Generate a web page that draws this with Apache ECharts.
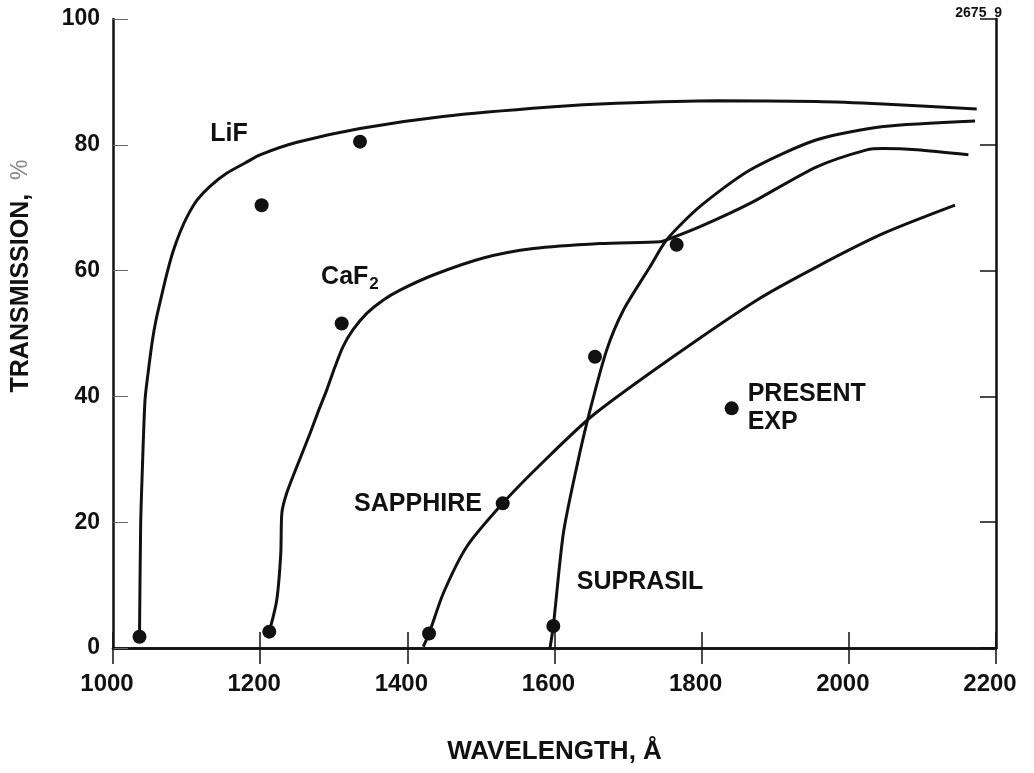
<!DOCTYPE html>
<html>
<head>
<meta charset="utf-8">
<script src="https://cdn.jsdelivr.net/npm/echarts@6/dist/echarts.min.js"></script>
<style>
  html, body { margin: 0; padding: 0; background: #fff; }
  #chart { width: 1034px; height: 773px; }
</style>
</head>
<body>
<div id="chart"></div>
<script>
// wavelength (A) vs transmission (%)
var lifCurve = [
  [1036, 1.8], [1037.6, 19.6], [1039.4, 26.7], [1043.5, 39.4], [1048.2, 44.2], [1053.7, 49.0],
  [1058.4, 52.1], [1064.6, 55.3], [1073.4, 59.6], [1081.5, 63.0], [1091.1, 66.1], [1101.3, 68.7],
  [1114.2, 71.2], [1131.8, 73.4], [1154.9, 75.5], [1179.4, 77.1], [1199.8, 78.4], [1250.1, 80.4],
  [1335.7, 82.6], [1448.5, 84.5], [1594, 86.0], [1684.6, 86.6], [1820.5, 87.0], [1956.4, 86.9],
  [2046.5, 86.5], [2173.8, 85.7]
];
var caf2Curve = [
  [1212.4, 2.6], [1222.5, 7.6], [1228, 15], [1229.5, 21.5], [1236, 24.6], [1249.7, 28.8],
  [1267.7, 34.1], [1278.6, 37.5], [1290.4, 41.0], [1301.7, 44.7], [1312.6, 47.9], [1326.2, 50.6],
  [1344.8, 53.2], [1366.9, 55.3], [1390.1, 56.9], [1435.3, 59.3], [1503.3, 62.0], [1571.2, 63.5],
  [1661.9, 64.3], [1743.4, 64.6], [1752.5, 64.9], [1797.8, 67.0], [1865.7, 70.7], [1956.4, 76.5],
  [2024.3, 79.2], [2046.9, 79.4], [2092.3, 79.2], [2162.5, 78.4]
];
var sapphireCurve = [
  [1421.7, 0.2], [1429.5, 2.3], [1448.9, 8.7], [1480.7, 16.1], [1529.6, 23.0], [1580.3, 29.1],
  [1652.3, 37.0], [1761.1, 46.3], [1874.8, 55.3], [1956.4, 60.6], [2046.9, 65.9], [2144.3, 70.4]
];
var suprasilCurve = [
  [1593.9, 0], [1598.4, 3.5], [1612, 18.2], [1630.2, 28.8], [1648.3, 37.8], [1671, 47.4],
  [1693.6, 53.7], [1729.8, 60.6], [1752.5, 64.9], [1797.8, 70.2], [1865.7, 76.0], [1956.4, 80.8],
  [2046.9, 82.9], [2171.5, 83.8]
];
// measured points (present experiment)
var measured = [
  [1036, 1.8], [1202, 70.4], [1335.7, 80.5],
  [1212.4, 2.6], [1310.8, 51.6],
  [1429.5, 2.3], [1529.6, 23.0],
  [1598.4, 3.5], [1655, 46.3], [1766, 64.1]
];
var legendPoint = [1840.8, 38.1];
var curveLabels = [
  { name: 'LiF', value: [1157.7, 81.7] },
  { name: 'CaF2', value: [1322, 59.0] },
  { name: 'SAPPHIRE', value: [1414.5, 22.9] },
  { name: 'SUPRASIL', value: [1716.2, 10.5] }
];
var xTicks = { min: 1000, max: 2200, step: 200 };
var yTicks = { min: 0, max: 100, step: 20 };

var font = "'Liberation Sans', Arial, sans-serif";
var ink = '#111';

var chart = echarts.init(document.getElementById('chart'));

function curve(name, data) {
  return {
    name: name,
    type: 'line',
    data: data,
    smooth: 0.25,
    symbol: 'none',
    lineStyle: { color: ink, width: 3 },
    z: 2
  };
}

var labelData = curveLabels.map(function (d) {
  var item = { name: d.name, value: d.value };
  if (d.name === 'CaF2') {
    item.label = {
      formatter: 'CaF{s|2}',
      rich: { s: { fontSize: 17, fontWeight: 'bold', fontFamily: font, color: ink, padding: [14, 0, 0, 1] } }
    };
  }
  return item;
});

var option = {
  animation: false,
  backgroundColor: '#fff',
  title: {
    text: '2675  9',
    right: 27,
    top: 1,
    textStyle: { fontSize: 14, fontWeight: 'bold', fontFamily: font, color: ink }
  },
  grid: { left: 113, right: 38, top: 19, bottom: 125 },
  xAxis: [
    {
      type: 'value',
      min: xTicks.min, max: xTicks.max, interval: xTicks.step,
      name: 'WAVELENGTH, Å',
      nameLocation: 'middle',
      nameGap: 91,
      nameTextStyle: { fontSize: 26, fontWeight: 'bold', fontFamily: font, color: ink },
      axisLine: { lineStyle: { color: ink, width: 2.5 } },
      axisTick: { inside: true, length: 16, lineStyle: { color: ink, width: 1.5 } },
      axisLabel: {
        fontSize: 24, fontWeight: 'bold', fontFamily: font, color: ink, margin: 24, padding: [0, 12, 0, 0],
        formatter: function (v) { return String(v); }
      },
      splitLine: { show: false }
    },
    {
      type: 'value',
      position: 'top',
      min: xTicks.min, max: xTicks.max, interval: xTicks.step,
      axisLine: { show: true, lineStyle: { color: ink, width: 2.5 } },
      axisTick: { show: true, inside: true, length: 16, lineStyle: { color: ink, width: 1.5 } },
      axisLabel: { show: false },
      splitLine: { show: false }
    }
  ],
  yAxis: [
    {
      type: 'value',
      min: yTicks.min, max: yTicks.max, interval: yTicks.step,
      axisLine: { show: true, lineStyle: { color: ink, width: 2.5 } },
      axisTick: { show: true, inside: true, length: 15, lineStyle: { color: '#666', width: 1 } },
      axisLabel: { fontSize: 23, fontWeight: 'bold', fontFamily: font, color: ink, margin: 13 },
      splitLine: { show: false }
    },
    {
      type: 'value',
      position: 'right',
      min: yTicks.min, max: yTicks.max, interval: yTicks.step,
      axisLine: { show: true, lineStyle: { color: ink, width: 2.5 } },
      axisTick: { show: true, inside: true, length: 16, lineStyle: { color: ink, width: 1.5 } },
      axisLabel: { show: false },
      splitLine: { show: false }
    }
  ],
  graphic: [
    {
      type: 'text',
      x: 21,
      y: 276,
      rotation: Math.PI / 2,
      style: {
        text: 'TRANSMISSION,  {p|%}',
        align: 'center',
        verticalAlign: 'middle',
        font: 'bold 25px ' + font,
        fill: ink,
        rich: { p: { fontSize: 23, fontWeight: 'normal', fontFamily: font, fill: '#888' } }
      }
    }
  ],
  series: [
    curve('LiF', lifCurve),
    curve('CaF2', caf2Curve),
    curve('Sapphire', sapphireCurve),
    curve('Suprasil', suprasilCurve),
    {
      name: 'Measured',
      type: 'scatter',
      data: measured,
      symbol: 'circle',
      symbolSize: 14,
      itemStyle: { color: ink, opacity: 1 },
      z: 3
    },
    {
      name: 'Present exp',
      type: 'scatter',
      data: [legendPoint],
      symbol: 'circle',
      symbolSize: 14,
      itemStyle: { color: ink, opacity: 1 },
      label: {
        show: true,
        position: 'right',
        distance: 9,
        formatter: 'PRESENT\nEXP',
        align: 'left',
        lineHeight: 28,
        fontSize: 25,
        fontWeight: 'bold',
        fontFamily: font,
        color: ink
      },
      z: 3
    },
    {
      name: 'Labels',
      type: 'scatter',
      data: labelData,
      symbolSize: 0,
      silent: true,
      itemStyle: { opacity: 1 },
      label: {
        show: true,
        position: 'inside',
        formatter: '{b}',
        fontSize: 25,
        fontWeight: 'bold',
        fontFamily: font,
        color: ink
      },
      z: 4
    }
  ]
};

chart.setOption(option);
</script>
</body>
</html>
